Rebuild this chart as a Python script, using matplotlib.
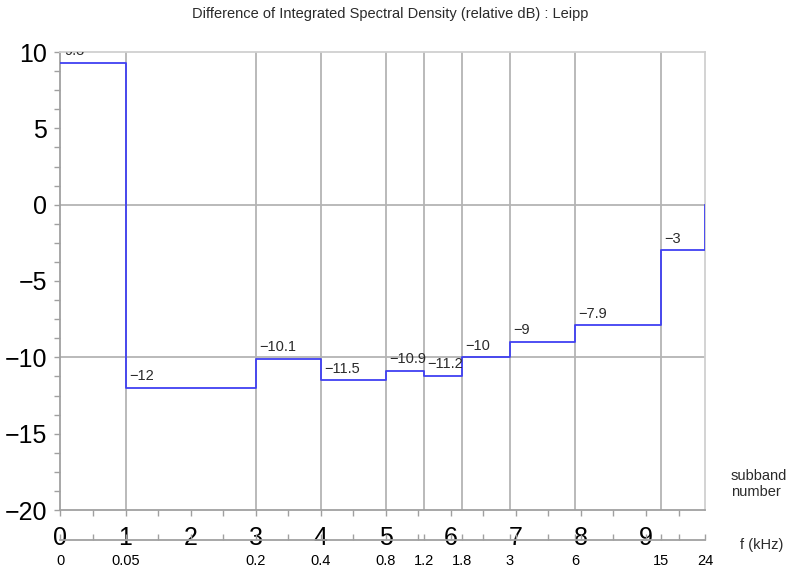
import numpy as np
import matplotlib
matplotlib.use("Agg")
import matplotlib.pyplot as plt
from matplotlib.ticker import MultipleLocator, FixedLocator, NullFormatter

plt.rcParams['font.family'] = ['Liberation Sans', 'DejaVu Sans']

# band edges in kHz and level per band (relative dB)
freq_edges = [0, 0.05, 0.2, 0.4, 0.8, 1.2, 1.8, 3, 6, 15, 24]
freq_labels = ['0', '0.05', '0.2', '0.4', '0.8', '1.2', '1.8', '3', '6', '15', '24']
levels = [9.3, -12, -10.1, -11.5, -10.9, -11.2, -10, -9, -7.9, -3]
level_labels = ['9.3', '\u221212', '\u221210.1', '\u221211.5', '\u221210.9',
                '\u221211.2', '\u221210', '\u22129', '\u22127.9', '\u22123']
subband_ticks = list(range(10))


def subband(f):
    # subband axis: linear up to 50 Hz, then one unit per octave
    f = np.asarray(f, dtype=float)
    return np.where(f <= 0.05, f / 0.05, 1 + np.log2(np.maximum(f, 1e-9) / 0.05))


edges = subband(freq_edges)
W, H = 789, 570
fig = plt.figure(figsize=(W / 100, H / 100), dpi=100)
x0, x1, ytop, ybot = 60.5, 705, 52, 510
ax = fig.add_axes([x0 / W, 1 - ybot / H, (x1 - x0) / W, (ybot - ytop) / H])

ax.set_xlim(0, edges[-1])
ax.set_ylim(-20, 10)

grid_c = '#b4b4b4'
for e in edges[1:-1]:
    ax.axvline(e, color=grid_c, lw=1.3, zorder=1)
for yv in (0, -10):
    ax.axhline(yv, color=grid_c, lw=1.3, zorder=1)

xs = np.append(edges, edges[-1])
ys = np.append(levels, [levels[-1], 0])
ax.step(xs, ys, where='post', color='#4040f2', lw=1.3, zorder=3)

for e, v, lab in zip(edges[:-1], levels, level_labels):
    ax.annotate(lab, (e, v), xytext=(2.5, 5.5), textcoords='offset points',
                ha='left', va='baseline', fontsize=10.5, color='#2a2a2a',
                annotation_clip=False, clip_on=True, zorder=4)

for side in ('top', 'right'):
    ax.spines[side].set_color('#d0d0d0')
    ax.spines[side].set_linewidth(1.3)
for side in ('left', 'bottom'):
    ax.spines[side].set_color('#a0a0a0')
    ax.spines[side].set_linewidth(1.3)

ax.yaxis.set_major_locator(MultipleLocator(5))
ax.yaxis.set_minor_locator(MultipleLocator(1.25))
ax.xaxis.set_major_locator(FixedLocator(subband_ticks))
ax.xaxis.set_minor_locator(MultipleLocator(0.5))
ax.tick_params(axis='both', which='both', direction='out', color='#a0a0a0',
               length=4.5, width=1)
ax.tick_params(axis='y', labelsize=18, pad=5)
ax.tick_params(axis='x', labelsize=18, pad=7)
ax.set_xticklabels([str(t) for t in subband_ticks])

# second (frequency) axis below the subband axis
ax2 = ax.twiny()
ax2.set_xlim(ax.get_xlim())
ax2.xaxis.set_ticks_position('bottom')
ax2.xaxis.set_label_position('bottom')
ax2.spines['bottom'].set_position(('outward', 21.5))
for side in ('top', 'right', 'left'):
    ax2.spines[side].set_visible(False)
ax2.spines['bottom'].set_color('#a0a0a0')
ax2.spines['bottom'].set_linewidth(1.3)
ax2.xaxis.set_major_locator(FixedLocator(edges))
ax2.set_xticklabels(freq_labels)
ax2.xaxis.set_minor_locator(MultipleLocator(0.5))
ax2.xaxis.set_minor_formatter(NullFormatter())
ax2.tick_params(axis='x', which='both', direction='in', color='#a0a0a0',
                length=4.5, width=1, labelsize=10.5, pad=10)

fig.text(390 / W, 1 - 14 / H,
         'Difference of Integrated Spectral Density (relative dB) : Leipp',
         ha='center', va='center', fontsize=10.5, color='#2a2a2a')
fig.text(731 / W, 1 - 484 / H, 'subband\nnumber', ha='left', va='center',
         fontsize=10.5, color='#2a2a2a', linespacing=1.2)
fig.text(740 / W, 1 - 545 / H, 'f (kHz)', ha='left', va='center',
         fontsize=10.5, color='#2a2a2a')

fig.savefig('out.png', dpi=100)
